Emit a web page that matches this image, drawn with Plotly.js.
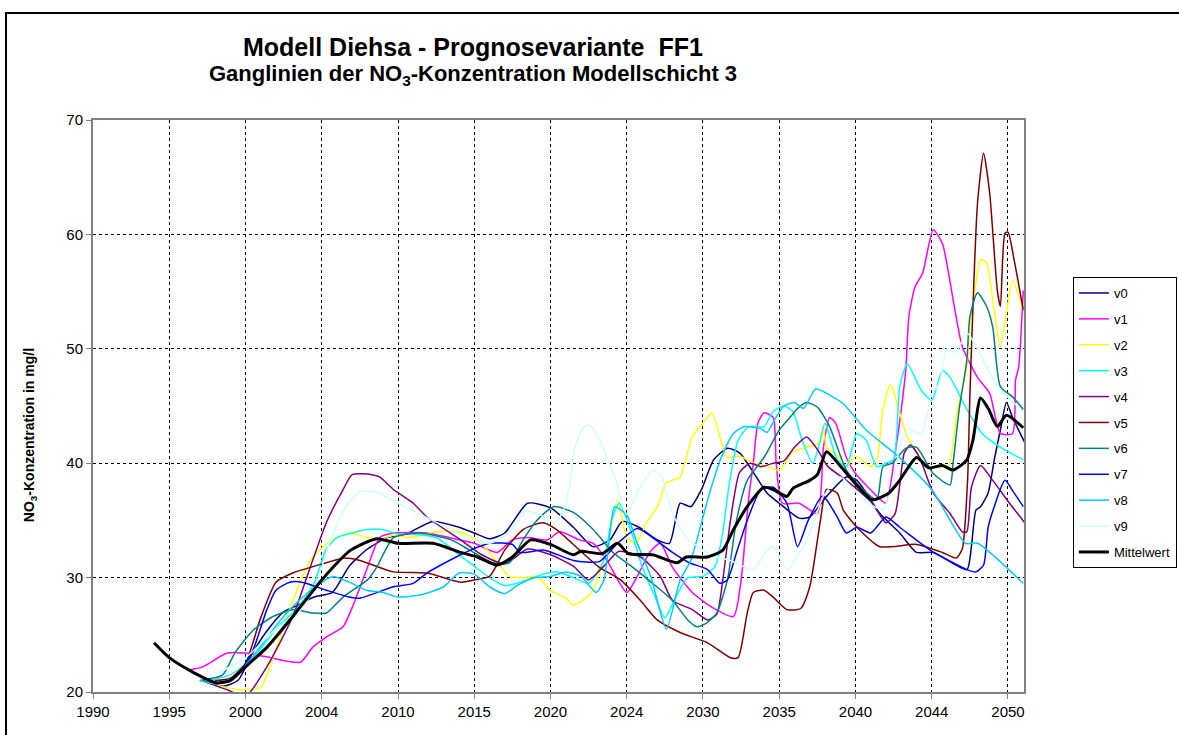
<!DOCTYPE html>
<html>
<head>
<meta charset="utf-8">
<script src="https://cdn.plot.ly/plotly-3.0.1.min.js"></script>
<style>
  html, body { margin: 0; padding: 0; background: #fff; }
  #wrap { position: relative; width: 1179px; height: 735px; overflow: hidden; }
  #frame { position: absolute; left: 5px; top: 12px; width: 1300px; height: 900px; border: 2px solid #000; pointer-events: none; }
  #chart { position: absolute; left: 0; top: 0; width: 1179px; height: 735px; }
</style>
</head>
<body>
<div id="wrap">
  <div id="chart"></div>
  <div id="frame"></div>
</div>
<script>
// x values are positions on the (equally spaced) chart time axis, one tick = 5 units
const tickVals = [1990, 1995, 2000, 2005, 2010, 2015, 2020, 2025, 2030, 2035, 2040, 2045, 2050];
const tickText = ['1990', '1995', '2000', '2004', '2010', '2015', '2020', '2024', '2030', '2035', '2040', '2044', '2050'];
const seriesNames = ['v0', 'v1', 'v2', 'v3', 'v4', 'v5', 'v6', 'v7', 'v8', 'v9', 'Mittelwert'];

const v0 = [[1997.2,21.0],[1998.5,20.5],[1999.5,21.0],[2000.5,23.5],[2001.5,25.5],[2002.5,27.0],[2003.3,27.5],[2004.5,28.3],[2005.7,28.7],[2006.8,31.0],[2008.0,32.5],[2009.3,33.5],[2010.5,33.8],[2012.3,34.9],[2014.0,34.4],[2015.0,33.9],[2016.0,33.4],[2017.0,33.9],[2018.5,36.5],[2020.0,36.1],[2021.5,34.4],[2022.8,32.7],[2023.9,33.3],[2024.7,34.9],[2025.8,34.4],[2027.0,33.3],[2027.8,33.0],[2028.5,36.5],[2029.2,36.2],[2029.9,37.7],[2030.7,40.3],[2031.6,41.3],[2032.4,40.9],[2033.3,39.2],[2034.2,37.4],[2035.0,36.5],[2036.3,35.2],[2037.0,35.3],[2038.1,37.1],[2039.4,38.8],[2040.1,38.5],[2041.6,35.6],[2042.9,33.9],[2044.0,32.2],[2045.1,32.2],[2047.3,30.7],[2047.6,32.7],[2047.9,35.9],[2048.2,36.2],[2048.7,37.4],[2049.1,40.3],[2049.5,42.9],[2049.9,45.3],[2050.3,44.0],[2051.1,41.8]];
const v1 = [[1996.2,21.9],[1997.2,22.2],[1998.8,23.4],[2000.0,23.4],[2001.3,23.1],[2003.6,22.6],[2004.4,23.9],[2005.3,24.8],[2006.4,25.7],[2007.0,27.4],[2008.0,30.9],[2008.8,33.5],[2009.7,33.9],[2011.9,33.9],[2014.0,33.3],[2015.0,33.0],[2016.5,32.2],[2017.5,33.3],[2018.5,33.5],[2019.8,33.3],[2020.6,34.0],[2021.9,33.3],[2022.8,33.0],[2023.7,31.5],[2025.0,28.7],[2025.8,30.4],[2026.5,32.2],[2027.2,33.0],[2028.0,30.9],[2029.3,28.7],[2030.6,27.4],[2032.0,26.6],[2032.5,29.8],[2033.0,37.0],[2033.3,40.0],[2033.6,43.5],[2034.0,44.4],[2034.6,44.0],[2034.8,40.0],[2035.2,36.5],[2036.3,36.5],[2037.5,35.6],[2037.9,41.4],[2038.3,44.0],[2038.7,43.5],[2039.4,40.5],[2040.0,39.1],[2041.5,37.0],[2042.0,36.5],[2042.6,40.9],[2043.0,44.7],[2043.3,48.2],[2043.5,52.8],[2043.9,55.4],[2044.4,56.6],[2045.1,60.4],[2045.7,59.2],[2046.4,54.3],[2047.0,50.2],[2048.0,47.5],[2048.8,46.1],[2049.5,42.6],[2050.3,42.6],[2050.5,47.3],[2050.7,48.4],[2051.0,55.1]];
const v2 = [[1998.1,20.6],[1999.6,20.2],[2001.0,20.4],[2001.9,23.4],[2003.1,28.0],[2004.4,31.8],[2005.7,33.3],[2006.8,33.9],[2008.0,33.5],[2008.8,33.3],[2009.7,33.7],[2010.8,33.5],[2012.5,34.0],[2014.0,34.0],[2015.2,33.3],[2016.0,32.2],[2017.3,30.1],[2018.2,30.0],[2019.1,30.1],[2020.0,28.9],[2021.0,28.2],[2021.5,27.6],[2022.4,28.3],[2022.8,28.9],[2023.7,32.7],[2024.4,36.8],[2025.0,33.5],[2025.6,33.0],[2026.3,34.8],[2027.0,36.2],[2027.6,38.3],[2028.0,38.5],[2028.5,38.8],[2029.3,42.3],[2030.3,44.0],[2030.6,44.4],[2031.3,41.4],[2031.6,40.5],[2032.4,40.6],[2033.3,40.0],[2034.2,39.7],[2035.0,39.4],[2035.9,41.0],[2036.8,41.4],[2037.7,41.8],[2037.9,43.2],[2038.1,41.4],[2038.9,40.6],[2039.4,39.7],[2040.0,40.6],[2041.0,39.7],[2041.4,40.3],[2041.8,44.7],[2042.3,46.9],[2042.9,44.4],[2043.4,42.3],[2044.2,40.6],[2044.7,39.7],[2045.6,39.7],[2046.1,39.7],[2046.65,44.4],[2047.3,48.4],[2047.5,51.9],[2048.0,56.6],[2048.2,57.8],[2048.6,57.5],[2049.0,54.3],[2049.5,50.2],[2049.9,53.1],[2050.3,56.0],[2051.0,53.4]];
const v3 = [[1997.5,21.0],[1999.0,21.5],[2000.5,23.0],[2002.0,25.5],[2003.5,27.5],[2004.5,29.5],[2005.3,32.5],[2006.0,33.5],[2007.0,33.9],[2008.0,34.2],[2009.0,34.2],[2010.0,33.8],[2011.0,33.8],[2012.5,33.5],[2014.0,32.0],[2015.0,31.0],[2016.0,30.0],[2017.0,29.3],[2018.5,29.8],[2019.5,30.3],[2020.5,30.5],[2021.5,30.0],[2022.5,29.5],[2023.5,31.5],[2024.0,35.0],[2024.5,36.5],[2025.3,34.0],[2026.0,31.0],[2026.8,28.5],[2027.5,26.5],[2028.3,28.5],[2029.0,30.0],[2030.0,30.1],[2030.8,31.0],[2031.3,34.0],[2031.7,38.0],[2032.3,42.0],[2033.0,43.2],[2034.0,43.2],[2034.6,44.5],[2035.3,45.0],[2035.9,44.5],[2036.5,42.0],[2037.2,40.0],[2037.6,41.5],[2038.0,43.5],[2038.8,40.3],[2039.4,39.7],[2040.1,42.6],[2040.7,42.0],[2041.4,39.7],[2042.0,40.0],[2042.5,40.3],[2042.9,46.7],[2043.4,48.7],[2044.3,46.4],[2045.0,45.5],[2045.7,48.1],[2046.2,47.5],[2047.3,44.7],[2048.3,42.6],[2049.5,41.4],[2051.0,40.3]];
const v4 = [[1997.5,20.8],[1998.8,20.2],[2000.0,19.6],[2001.4,22.2],[2003.1,26.6],[2004.4,31.5],[2005.3,34.8],[2006.4,37.7],[2007.0,39.0],[2008.3,39.0],[2008.8,38.8],[2009.7,37.7],[2011.0,36.5],[2011.9,35.3],[2014.1,33.3],[2015.5,32.0],[2017.0,31.2],[2018.5,32.5],[2020.0,32.0],[2021.5,31.0],[2022.5,29.8],[2023.5,31.0],[2024.5,32.3],[2025.9,31.8],[2027.2,30.1],[2028.0,28.0],[2029.3,27.2],[2030.3,26.3],[2030.9,26.8],[2031.3,29.8],[2031.8,35.0],[2032.4,39.2],[2033.1,40.0],[2033.8,39.7],[2034.6,40.0],[2035.3,40.2],[2036.0,41.4],[2036.8,42.3],[2037.5,41.2],[2038.2,39.7],[2039.4,38.5],[2041.1,36.5],[2042.0,34.8],[2042.6,35.6],[2043.2,40.9],[2043.6,41.6],[2044.2,40.5],[2045.1,37.4],[2046.2,35.6],[2047.0,34.0],[2047.3,34.0],[2047.6,37.9],[2048.2,39.8],[2049.0,38.5],[2050.1,36.5],[2051.1,34.8]];
const v5 = [[1998.0,21.0],[1999.0,21.2],[2000.0,22.5],[2001.0,26.5],[2002.0,29.6],[2003.1,30.4],[2005.3,31.3],[2006.4,31.7],[2007.5,31.5],[2009.7,30.5],[2011.9,30.4],[2014.1,29.6],[2015.0,29.8],[2016.0,30.1],[2017.0,32.4],[2018.2,34.2],[2019.5,34.8],[2020.4,34.2],[2021.9,32.4],[2023.2,30.9],[2024.6,29.8],[2025.9,28.0],[2027.0,26.3],[2028.5,25.2],[2030.3,24.3],[2031.8,23.0],[2032.3,23.0],[2032.9,26.9],[2033.3,28.7],[2034.0,28.9],[2034.6,28.3],[2035.5,27.2],[2036.4,27.3],[2037.0,29.2],[2037.7,35.0],[2038.1,37.7],[2038.8,37.4],[2039.2,35.9],[2040.1,34.4],[2041.6,32.7],[2044.0,32.9],[2045.7,32.2],[2046.6,31.7],[2047.0,32.5],[2047.35,38.5],[2047.5,45.8],[2048.0,62.7],[2048.4,67.1],[2048.8,63.6],[2049.3,55.1],[2049.5,53.7],[2049.8,60.1],[2050.0,60.2],[2050.4,57.8],[2051.0,53.4]];
const v6 = [[1997.0,21.0],[1998.5,21.5],[1999.3,23.4],[2000.5,25.4],[2001.8,26.6],[2003.1,27.2],[2004.4,26.9],[2005.3,26.9],[2006.4,28.3],[2008.0,29.8],[2008.6,30.9],[2009.7,33.5],[2011.4,33.9],[2013.5,33.3],[2014.7,32.4],[2016.2,31.3],[2017.3,31.3],[2018.2,33.3],[2019.1,35.0],[2020.2,36.2],[2021.5,35.7],[2022.8,34.2],[2024.1,32.2],[2025.4,30.9],[2026.7,29.5],[2028.0,28.0],[2029.0,26.3],[2029.6,25.7],[2030.2,26.0],[2030.9,26.9],[2031.6,29.8],[2032.2,35.0],[2032.9,38.5],[2034.0,40.5],[2035.0,42.9],[2035.7,44.0],[2036.3,44.9],[2036.8,45.3],[2037.5,44.9],[2038.3,43.2],[2039.4,39.4],[2040.5,37.7],[2041.4,36.8],[2041.8,39.7],[2042.4,40.0],[2043.3,41.3],[2044.0,41.4],[2045.1,39.1],[2046.2,38.1],[2046.4,40.0],[2046.8,44.7],[2047.3,49.0],[2047.5,52.8],[2048.0,54.9],[2048.6,53.7],[2049.0,51.9],[2049.5,46.7],[2050.3,45.8],[2051.0,44.7]];
const v7 = [[1997.5,20.8],[1998.8,20.9],[1999.6,21.7],[2000.5,23.7],[2001.4,27.2],[2002.0,28.9],[2002.9,29.6],[2003.7,29.6],[2005.3,28.9],[2006.8,28.3],[2007.5,28.2],[2009.7,29.2],[2011.0,29.5],[2011.9,30.4],[2014.1,32.0],[2016.0,33.0],[2017.5,32.9],[2018.0,32.2],[2019.6,32.4],[2021.5,31.5],[2023.2,31.4],[2024.4,33.0],[2025.7,34.3],[2026.7,33.5],[2028.0,32.2],[2029.1,31.3],[2030.3,30.7],[2031.1,29.5],[2031.6,29.8],[2032.2,32.2],[2032.9,35.0],[2033.8,37.7],[2034.6,37.9],[2035.5,36.5],[2036.2,32.7],[2036.9,35.0],[2037.8,37.1],[2038.1,36.8],[2038.8,35.3],[2039.4,33.9],[2040.1,34.4],[2041.0,33.9],[2042.0,35.3],[2042.9,34.4],[2044.9,32.4],[2047.3,30.7],[2047.9,30.5],[2048.4,31.1],[2048.7,34.4],[2049.1,36.2],[2049.8,38.5],[2050.4,37.4],[2051.0,36.2]];
const v8 = [[1997.0,21.0],[1998.0,20.7],[1999.3,21.3],[2001.0,24.0],[2002.3,26.3],[2003.5,28.0],[2004.6,29.2],[2005.7,30.1],[2006.8,29.6],[2007.9,28.9],[2009.0,28.7],[2010.0,28.3],[2011.5,28.5],[2013.0,29.2],[2014.0,30.4],[2015.0,30.3],[2016.0,29.2],[2017.0,28.6],[2017.8,29.3],[2019.0,30.0],[2020.0,30.1],[2021.0,30.5],[2022.0,30.1],[2023.0,28.7],[2023.5,29.8],[2024.0,35.0],[2024.2,36.2],[2025.0,35.5],[2025.6,33.3],[2026.6,30.0],[2027.6,25.5],[2028.5,29.8],[2029.2,31.5],[2030.0,35.3],[2030.5,37.7],[2031.2,40.5],[2032.0,42.6],[2032.7,43.2],[2033.8,43.0],[2034.2,42.7],[2034.7,43.8],[2035.3,45.0],[2036.0,45.3],[2036.6,44.8],[2037.4,46.5],[2038.5,45.8],[2039.2,45.2],[2040.7,42.9],[2042.8,40.6],[2045.0,37.7],[2047.2,33.0],[2048.0,33.0],[2051.0,29.5]];
const v9 = [[1998.0,21.5],[2000.0,23.0],[2002.0,25.5],[2003.5,27.0],[2004.5,29.0],[2005.5,33.0],[2006.5,36.0],[2007.5,37.5],[2008.5,37.5],[2010.0,36.5],[2011.5,35.5],[2013.0,34.5],[2014.5,33.5],[2016.0,33.0],[2017.3,34.0],[2018.3,35.8],[2019.3,35.5],[2020.3,34.8],[2020.9,36.0],[2021.3,38.5],[2021.6,41.4],[2022.2,43.2],[2022.6,43.3],[2023.0,42.6],[2023.7,40.5],[2024.3,38.5],[2024.8,36.0],[2025.0,35.6],[2025.8,37.7],[2026.7,39.4],[2027.3,38.8],[2028.0,35.6],[2028.9,33.5],[2030.5,32.0],[2031.8,31.5],[2033.3,30.7],[2034.2,32.4],[2034.6,32.7],[2035.5,30.7],[2036.8,33.3],[2037.9,37.1],[2039.0,38.8],[2039.8,37.8],[2040.8,36.5],[2041.8,36.0],[2042.5,38.5],[2043.0,42.0],[2043.6,43.0],[2044.3,42.5],[2045.0,46.0],[2045.5,47.0],[2046.0,50.0],[2046.6,49.7],[2047.3,51.4],[2047.8,50.5],[2048.6,48.4],[2049.5,46.4],[2050.2,45.5],[2051.0,44.5]];
const mittelwert = [[1994.0,24.3],[1995.0,23.0],[1996.6,21.7],[1998.1,20.8],[1999.0,21.0],[1999.6,21.7],[2000.5,22.8],[2001.4,23.9],[2003.1,26.6],[2005.0,29.8],[2006.9,32.4],[2008.6,33.4],[2010.0,33.0],[2012.3,33.0],[2014.1,32.2],[2015.2,31.8],[2016.5,31.1],[2017.5,31.8],[2018.7,33.3],[2020.0,32.9],[2021.5,32.0],[2022.0,32.3],[2023.4,32.1],[2024.4,33.0],[2025.1,32.1],[2026.7,32.0],[2028.3,31.3],[2028.9,31.8],[2030.3,31.8],[2031.3,32.4],[2032.0,34.2],[2032.9,36.2],[2034.0,37.9],[2034.6,37.7],[2035.5,37.1],[2035.9,37.8],[2037.0,38.5],[2037.5,39.0],[2038.1,41.0],[2039.1,39.6],[2040.2,37.9],[2041.1,36.8],[2042.2,37.4],[2042.9,38.5],[2044.0,40.5],[2044.8,39.6],[2045.7,39.8],[2046.4,39.4],[2047.3,40.3],[2047.7,42.0],[2048.2,45.7],[2048.7,44.8],[2049.3,43.2],[2049.9,44.2],[2051.0,43.1]];

const allSeries = [v0, v1, v2, v3, v4, v5, v6, v7, v8, v9, mittelwert];
const colors = ['#000080', '#FF00FF', '#FFFF00', '#00FFFF', '#800080', '#800000', '#008080', '#0000FF', '#00CCFF', '#CCFFFF', '#000000'];

const FONT = 'Liberation Sans, Arial, Helvetica, sans-serif';

const traces = allSeries.map((s, i) => ({
  type: 'scatter',
  mode: 'lines',
  name: seriesNames[i],
  legendgroup: 'g' + i,
  x: s.map(p => p[0]),
  y: s.map(p => p[1]),
  line: { color: colors[i], width: i === 10 ? 3 : 1.5, shape: 'spline', smoothing: 0.6 },
  hoverinfo: 'x+y+name'
}));

const axisCommon = {
  showgrid: true,
  gridcolor: '#000000',
  gridwidth: 1,
  griddash: '3px,3px',
  showline: true,
  mirror: true,
  linecolor: '#808080',
  linewidth: 2,
  ticks: 'outside',
  ticklen: 5,
  tickcolor: '#808080',
  tickfont: { family: FONT, size: 15, color: '#000' },
  zeroline: false,
  fixedrange: true
};

const layout = {
  width: 1179,
  height: 735,
  margin: { l: 93, r: 155, t: 120, b: 43, autoexpand: false },
  paper_bgcolor: '#ffffff',
  plot_bgcolor: '#ffffff',
  font: { family: FONT, color: '#000' },
  showlegend: true,
  xaxis: Object.assign({}, axisCommon, {
    range: [1990, 2051.05],
    tickmode: 'array',
    tickvals: tickVals,
    ticktext: tickText
  }),
  yaxis: Object.assign({}, axisCommon, {
    range: [20, 70],
    tickmode: 'array',
    tickvals: [20, 30, 40, 50, 60, 70]
  }),
  legend: {
    x: 1.0525, xanchor: 'left',
    y: 0.7255, yanchor: 'top',
    bgcolor: '#ffffff',
    bordercolor: '#000000',
    borderwidth: 1,
    font: { family: FONT, size: 13, color: '#000' },
    itemwidth: 30,
    traceorder: 'grouped',
    tracegroupgap: 6
  },
  annotations: [
    { xref: 'paper', yref: 'paper', x: 0.408, y: 1.128, xanchor: 'center', yanchor: 'middle', showarrow: false,
      text: '<b>Modell Diehsa - Prognosevariante \u00a0FF1</b>', font: { family: FONT, size: 25, color: '#000' } },
    { xref: 'paper', yref: 'paper', x: 0.408, y: 1.0787, xanchor: 'center', yanchor: 'middle', showarrow: false,
      text: '<b>Ganglinien der NO<sub>3</sub>-Konzentration Modellschicht 3</b>', font: { family: FONT, size: 22, color: '#000' } },
    { xref: 'paper', yref: 'paper', x: -0.0677, y: 0.449, xanchor: 'center', yanchor: 'middle', showarrow: false, textangle: -90,
      text: '<b>NO<sub>3</sub>-Konzentration in mg/l</b>', font: { family: FONT, size: 14, color: '#000' } }
  ]
};

Plotly.newPlot('chart', traces, layout, { displayModeBar: false, staticPlot: true });
</script>
</body>
</html>
